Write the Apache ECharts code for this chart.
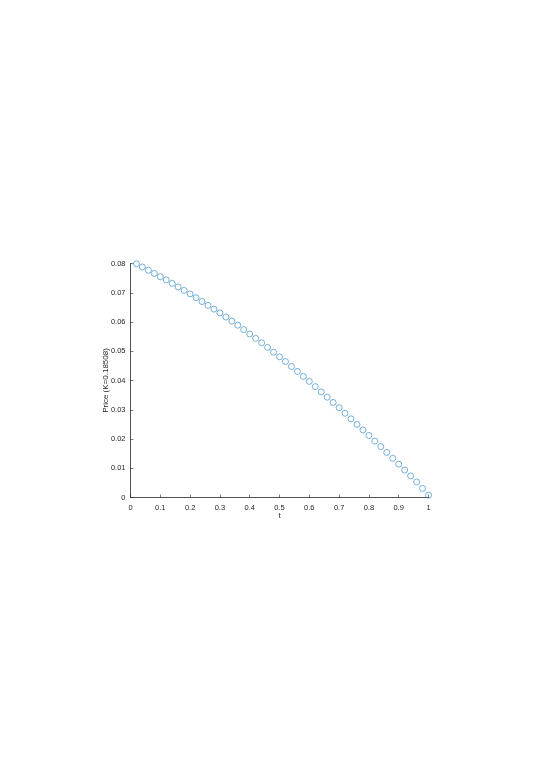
<!DOCTYPE html>
<html>
<head>
<meta charset="utf-8">
<script src="https://cdn.jsdelivr.net/npm/echarts@6/dist/echarts.min.js"></script>
<style>html,body{margin:0;padding:0;background:#fff;}#c{width:545px;height:771px;}</style>
</head>
<body>
<div id="c"></div>
<script>
const tValues = [0.02,0.04,0.06,0.08,0.10,0.12,0.14,0.16,0.18,0.20,0.22,0.24,0.26,0.28,0.30,0.32,0.34,0.36,0.38,0.40,0.42,0.44,0.46,0.48,0.50,0.52,0.54,0.56,0.58,0.60,0.62,0.64,0.66,0.68,0.70,0.72,0.74,0.76,0.78,0.80,0.82,0.84,0.86,0.88,0.90,0.92,0.94,0.96,0.98,1.00];
const priceValues = [0.0799,0.0788,0.0777,0.0766,0.0755,0.0744,0.0732,0.0720,0.0708,0.0696,0.0683,0.0670,0.0657,0.0644,0.0631,0.0617,0.0603,0.0589,0.0574,0.0559,0.0544,0.0529,0.0513,0.0497,0.0481,0.0465,0.0448,0.0431,0.0414,0.0397,0.0379,0.0361,0.0343,0.0325,0.0307,0.0288,0.0269,0.0250,0.0231,0.0212,0.0193,0.0174,0.0154,0.0134,0.0114,0.0094,0.0074,0.0053,0.0031,0.0008];
const xTicks = {min:0, max:1, interval:0.1};
const yTicks = {min:0, max:0.08, interval:0.01};
const xName = 't';
const yName = 'Price (K=0.18508)';

const data = tValues.map((t,i)=>[t, priceValues[i]]);
const chart = echarts.init(document.getElementById('c'), null, {renderer:'canvas'});
const axisColor = '#262626';
const font = 'Liberation Sans, Arial, sans-serif';
chart.setOption({
  animation:false,
  backgroundColor:'#fff',
  grid:{left:130.5, right:116.5, top:263.5, bottom:273.5, containLabel:false},
  xAxis:{type:'value', min:xTicks.min, max:xTicks.max, interval:xTicks.interval,
    name:xName, nameLocation:'middle', nameGap:14, nameMoveOverlap:false,
    nameTextStyle:{color:axisColor, fontSize:8, fontFamily:font},
    axisLine:{show:true, onZero:false, lineStyle:{color:axisColor, width:0.8}},
    axisTick:{show:true, inside:true, length:3, lineStyle:{color:axisColor, width:0.6}},
    axisLabel:{color:axisColor, fontSize:7.5, fontFamily:font, margin:6},
    splitLine:{show:false}},
  yAxis:{type:'value', min:yTicks.min, max:yTicks.max, interval:yTicks.interval,
    name:yName, nameLocation:'middle', nameGap:21, nameRotate:90, nameMoveOverlap:false,
    nameTextStyle:{color:axisColor, fontSize:8, fontFamily:font},
    axisLine:{show:true, onZero:false, lineStyle:{color:axisColor, width:0.8}},
    axisTick:{show:true, inside:true, length:3, lineStyle:{color:axisColor, width:0.6}},
    axisLabel:{color:axisColor, fontSize:7.5, fontFamily:font, margin:5},
    splitLine:{show:false}},
  series:[{type:'scatter', data:data, symbol:'circle', symbolSize:6,
    itemStyle:{color:'rgba(255,255,255,0)', borderColor:'#3d8fc7', borderWidth:0.7, opacity:1}}]
});
</script>
</body>
</html>
